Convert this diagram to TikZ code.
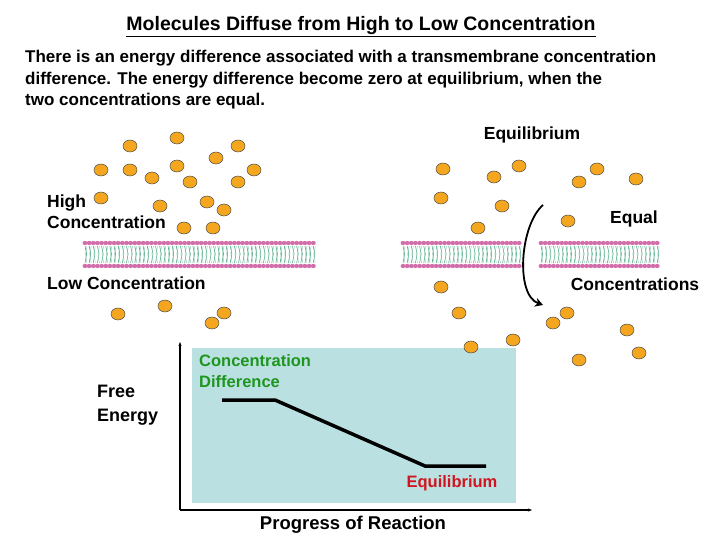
\documentclass[tikz,border=0pt]{standalone}
\usepackage{fontspec}
\setmainfont{Liberation Sans}
\usetikzlibrary{arrows.meta,shapes.geometric}
\definecolor{mol}{RGB}{243,166,30}
\definecolor{lipid}{RGB}{210,110,170}
\definecolor{tail}{RGB}{60,160,120}
\definecolor{chartbg}{RGB}{186,224,226}
\definecolor{cgreen}{RGB}{30,150,30}
\definecolor{cred}{RGB}{210,20,30}
\tikzset{
  m/.style={ellipse, draw=black!70, line width=0.5pt, fill=mol, minimum width=14pt, minimum height=12pt, inner sep=0pt},
  lbl/.style={font=\fontsize{17.5}{21}\selectfont\bfseries, inner sep=0pt},
  txt/.style={font=\fontsize{17}{21.5}\selectfont\bfseries, inner sep=0pt, align=left}
}
\begin{document}
\begin{tikzpicture}[x=1pt,y=-1pt]
\useasboundingbox (0,0) rectangle (720,540);
\node[font=\fontsize{19.5}{22}\selectfont\bfseries] (title) at (361,27) {\underline{Molecules Diffuse from High to Low Concentration}};
\node[txt, anchor=north west] (para) at (25,50) {There is an energy difference associated with a transmembrane concentration\\difference. The energy difference become zero at equilibrium, when the\\two concentrations are equal.};
\node[lbl] (eq) at (532,135) {Equilibrium};
\node[lbl, align=left, anchor=west] (high) at (47,212) {High\\Concentration};
\node[lbl, anchor=west] (low) at (47,283) {Low Concentration};
\node[lbl] (equal) at (634,219) {Equal};
\node[lbl] (concs) at (635,284) {Concentrations};
% membranes
\foreach \s/\n in {85/55,403/28,541/28}{
  \foreach \i in {0,...,\n}{
    \draw[tail, line width=0.5pt] (\s+\i*4.15,246) -- (\s+\i*4.15+1.6,254) -- (\s+\i*4.15,263);
    \draw[tail!60, line width=0.4pt] (\s+\i*4.15+2,246) -- (\s+\i*4.15+0.5,254) -- (\s+\i*4.15+2,263);
  }
  \foreach \i in {0,...,\n}{
    \fill[lipid] (\s+\i*4.15,243) ellipse (2.5pt and 2.1pt);
    \fill[lipid] (\s+\i*4.15,266) ellipse (2.5pt and 2.1pt);
  }
}
% molecules
\foreach \p [count=\k] in {(130,146),(177,138),(238,146),(216,158),(101,170),(130,170),(152,178),(177,166),(190,182),(238,182),(254,170),(101,198),(160,206),(207,202),(224,210),(184,228),(213,228),(118,314),(165,306),(212,323),(224,313),
(443,169),(494,177),(519,166),(579,182),(597,169),(636,179),(441,198),(502,206),(478,228),(568,221),(441,287),(459,313),(553,323),(567,313),(627,330),(579,360),(639,353)}
  \node[m] (m\k) at \p {};
% chart
\fill[chartbg] (192,348) rectangle (516,503);
\node[m] (ma) at (471,347) {};
\node[m] (mb) at (513,340) {};
\coordinate (o) at (180,510);
\coordinate (yt) at (180,342);
\coordinate (xr) at (532,510);
\draw[line width=1.2pt, -{Stealth[length=4pt]}] (o) -- (yt);
\draw[line width=1.2pt, -{Stealth[length=4pt]}] (o) -- (xr);
\coordinate (c1) at (222,400);
\coordinate (c2) at (275,400);
\coordinate (c3) at (425,466);
\coordinate (c4) at (486,466);
\draw[line width=3.5pt] (c1) -- (c2) -- (c3) -- (c4);
\node[lbl, font=\fontsize{16.5}{21}\selectfont\bfseries, text=cgreen, align=left, anchor=north west] (cd) at (199,354) {Concentration\\Difference};
\node[lbl, font=\fontsize{16.5}{21}\selectfont\bfseries, text=cred] (eqc) at (452,483) {Equilibrium};
\node[lbl, font=\fontsize{18}{24}\selectfont\bfseries, align=left, anchor=west] (fe) at (97,405) {Free\\Energy};
\node[lbl, font=\fontsize{18.5}{22}\selectfont\bfseries] (prog) at (353,525) {Progress of Reaction};
% arrow
\coordinate (a1) at (543,205);
\coordinate (a2) at (543,305);
\draw[line width=1.8pt, -{Stealth[length=8pt,width=9pt]}] (a1) .. controls (520,225) and (515,295) .. (a2);
\end{tikzpicture}
\end{document}
